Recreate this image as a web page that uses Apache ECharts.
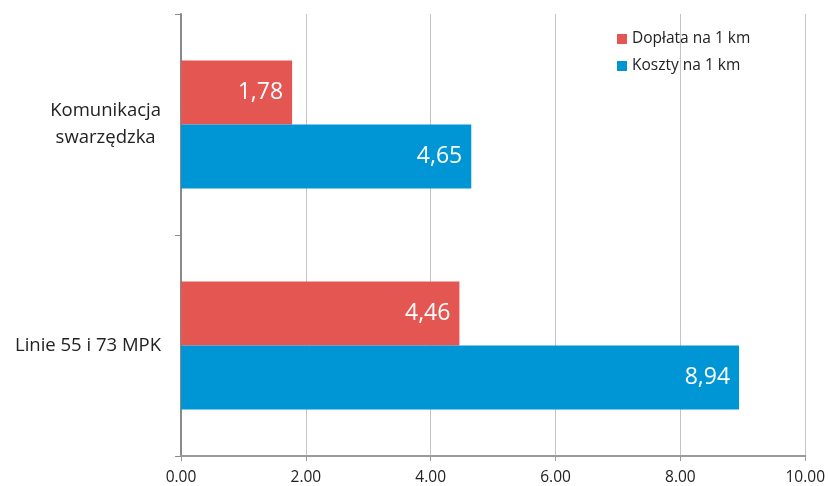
<!DOCTYPE html>
<html><head><meta charset="utf-8">
<script src="https://cdn.jsdelivr.net/npm/echarts@6/dist/echarts.min.js"></script>
<style>html,body{margin:0;padding:0;background:#fff}#c{width:828px;height:486px}</style>
</head><body><div id="c"></div>
<script>
var categories = ['Komunikacja\nswarzędzka', 'Linie 55 i 73 MPK'];
var seriesNames = ['Dopłata na 1 km', 'Koszty na 1 km'];
var doplata = [1.78, 4.46];
var koszty = [4.65, 8.94];
var FONT = '"Open Sans", sans-serif';
var chart = echarts.init(document.getElementById('c'));
var lbl = {
  show: true, position: 'insideRight', distance: 9, color: '#fff',
  fontSize: 23, fontFamily: FONT,
  formatter: function(p){ return p.value.toFixed(2).replace('.', ','); }
};
chart.setOption({
  animation: false,
  textStyle: {fontFamily: FONT},
  legend: {
    orient: 'vertical', left: 612, top: 25, itemWidth: 10, itemHeight: 10, itemGap: 9,
    icon: 'rect', textStyle: {fontSize: 15.5, color: '#222', fontFamily: FONT, lineHeight: 18},
    itemStyle: {borderWidth: 0},
    data: seriesNames
  },
  grid: {left: 181, right: 22, top: 14, bottom: 30, containLabel: false},
  xAxis: {
    type: 'value', min: 0, max: 10, interval: 2,
    axisLine: {show: true, lineStyle: {color: '#9a9a9a', width: 2}},
    axisTick: {show: true, length: 5, lineStyle: {color: '#9a9a9a'}},
    splitLine: {show: true, lineStyle: {color: '#c4c4c4', width: 1}},
    axisLabel: {fontSize: 15.5, color: '#222', margin: 14, fontFamily: FONT,
      formatter: function(v){ return v.toFixed(2); }}
  },
  yAxis: {
    type: 'category', inverse: true, data: categories,
    axisLine: {show: true, lineStyle: {color: '#8a8a8a', width: 2}},
    axisTick: {show: true, length: 6, lineStyle: {color: '#8a8a8a'}},
    axisLabel: {fontSize: 18.5, color: '#222', margin: 20, lineHeight: 27, fontFamily: FONT,
      formatter: function(v){ return v.split('\n').map(function(s){ return '{c|' + s + '}'; }).join('\n'); },
      rich: {c: {align: 'center', fontSize: 18.5, lineHeight: 27, color: '#222', fontFamily: FONT}}}
  },
  series: [
    {name: seriesNames[0], type: 'bar', data: doplata, barGap: '0%', barCategoryGap: '42%',
      itemStyle: {color: '#E35652'}, label: lbl},
    {name: seriesNames[1], type: 'bar', data: koszty, barGap: '0%', barCategoryGap: '42%',
      itemStyle: {color: '#0096D6'}, label: lbl}
  ]
});
</script></body></html>
